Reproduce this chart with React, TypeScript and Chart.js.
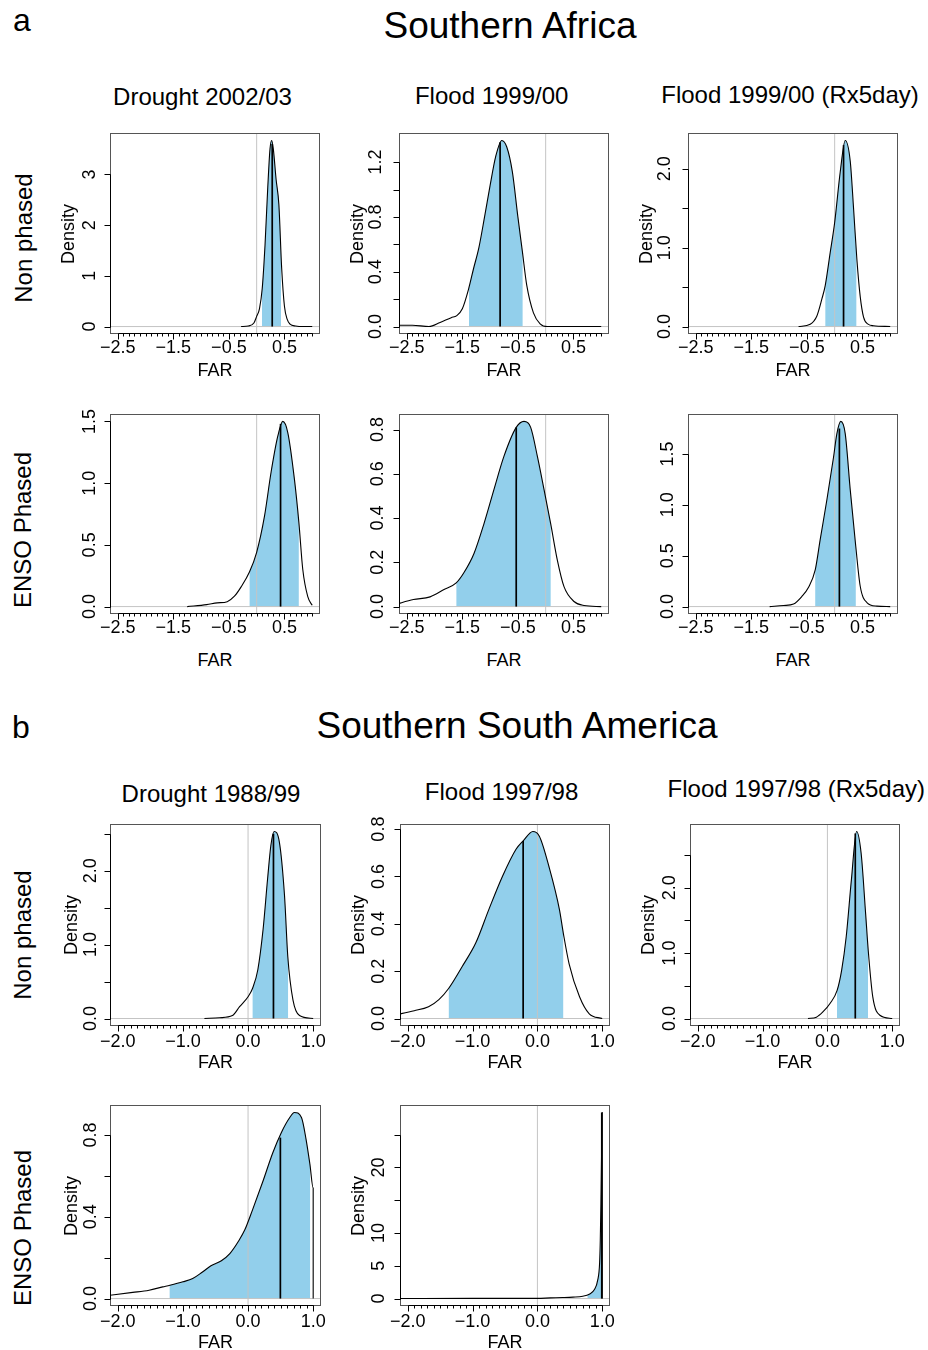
import React, { useEffect, useRef } from 'react';
import { Chart, registerables } from 'chart.js';

const FONT = '"Liberation Sans", Arial, Helvetica, sans-serif';
const BLUE = '#92cfeb';
const GREY = '#c4c4c4';
const BOX = '#555555';

// ---------------- Southern Africa ----------------
const afDroughtNP_x = [-0.28, -0.15, -0.05, 0.0, 0.05, 0.1, 0.15, 0.2, 0.24, 0.27, 0.3, 0.35, 0.4, 0.45, 0.5, 0.55, 0.6, 0.7, 0.85, 1.0];
const afDroughtNP_y = [0.0, 0.01, 0.07, 0.2, 0.35, 0.75, 1.6, 2.75, 3.5, 3.67, 3.5, 2.9, 2.4, 1.15, 0.4, 0.14, 0.05, 0.01, 0.0, 0.0];

const afFloodNP_x = [-2.7, -2.4, -2.1, -1.9, -1.7, -1.6, -1.5, -1.39, -1.3, -1.2, -1.1, -1.0, -0.9, -0.79, -0.7, -0.6, -0.5, -0.42, -0.34, -0.22, -0.1, 0.03, 0.5, 1.0];
const afFloodNP_y = [0.01, 0.01, 0.0, 0.03, 0.065, 0.08, 0.13, 0.27, 0.42, 0.58, 0.8, 1.03, 1.24, 1.358, 1.31, 1.13, 0.8, 0.55, 0.3, 0.1, 0.02, 0.0, 0.0, 0.0];

const afFloodRxNP_x = [-0.65, -0.44, -0.32, -0.23, -0.17, -0.08, 0.0, 0.1, 0.19, 0.28, 0.34, 0.4, 0.46, 0.52, 0.6, 0.7, 1.0];
const afFloodRxNP_y = [0.0, 0.03, 0.135, 0.35, 0.52, 0.94, 1.32, 1.96, 2.36, 2.1, 1.5, 0.85, 0.38, 0.12, 0.03, 0.01, 0.0];

const afDroughtEP_x = [-1.25, -0.9, -0.71, -0.53, -0.4, -0.28, -0.13, 0.0, 0.14, 0.26, 0.38, 0.47, 0.56, 0.68, 0.76, 0.83, 0.92, 1.0];
const afDroughtEP_y = [0.0, 0.016, 0.03, 0.04, 0.084, 0.16, 0.28, 0.44, 0.73, 1.09, 1.38, 1.5, 1.41, 1.03, 0.68, 0.3, 0.08, 0.01];

const afFloodEP_x = [-2.7, -2.38, -2.08, -1.83, -1.61, -1.47, -1.29, -1.11, -0.93, -0.75, -0.53, -0.39, -0.27, -0.15, -0.03, 0.09, 0.21, 0.33, 0.51, 0.69, 1.0];
const afFloodEP_y = [0.01, 0.032, 0.044, 0.077, 0.107, 0.154, 0.24, 0.375, 0.53, 0.68, 0.81, 0.837, 0.81, 0.68, 0.53, 0.375, 0.21, 0.09, 0.023, 0.005, 0.0];

const afFloodRxEP_x = [-1.17, -0.92, -0.74, -0.59, -0.47, -0.35, -0.26, -0.14, -0.02, 0.04, 0.11, 0.19, 0.28, 0.38, 0.46, 0.58, 0.76, 1.0];
const afFloodRxEP_y = [0.0, 0.01, 0.025, 0.1, 0.19, 0.36, 0.66, 1.05, 1.47, 1.7, 1.82, 1.7, 1.15, 0.59, 0.2, 0.04, 0.005, 0.0];

// ---------------- Southern South America ----------------
const saDroughtNP_x = [-0.67, -0.44, -0.24, -0.13, 0.0, 0.07, 0.15, 0.23, 0.3, 0.35, 0.4, 0.48, 0.56, 0.61, 0.69, 0.79, 1.0];
const saDroughtNP_y = [0.0, 0.01, 0.04, 0.16, 0.295, 0.41, 0.66, 1.2, 1.89, 2.34, 2.53, 2.39, 1.66, 0.84, 0.25, 0.04, 0.0];

const saFloodNP_x = [-2.2, -1.9, -1.68, -1.52, -1.37, -1.16, -0.95, -0.75, -0.54, -0.33, -0.22, -0.07, 0.03, 0.18, 0.34, 0.4, 0.49, 0.65, 0.8, 1.0];
const saFloodNP_y = [0.015, 0.033, 0.05, 0.08, 0.127, 0.22, 0.32, 0.46, 0.6, 0.715, 0.75, 0.79, 0.77, 0.64, 0.46, 0.36, 0.23, 0.092, 0.02, 0.0];

const saFloodRxNP_x = [-0.3, -0.17, -0.07, 0.04, 0.15, 0.22, 0.29, 0.37, 0.45, 0.52, 0.59, 0.63, 0.7, 0.81, 1.0];
const saFloodRxNP_y = [0.0, 0.02, 0.1, 0.23, 0.43, 0.74, 1.25, 2.12, 2.86, 2.53, 1.6, 1.04, 0.33, 0.05, 0.0];

const saDroughtEP_x = [-2.2, -1.77, -1.52, -1.31, -1.2, -1.0, -0.85, -0.7, -0.57, -0.41, -0.28, -0.15, -0.05, 0.07, 0.22, 0.38, 0.51, 0.64, 0.71, 0.82, 0.89, 0.95, 1.0, 1.0];
const saDroughtEP_y = [0.013, 0.03, 0.041, 0.057, 0.065, 0.082, 0.098, 0.13, 0.16, 0.185, 0.22, 0.279, 0.336, 0.435, 0.566, 0.713, 0.811, 0.885, 0.91, 0.885, 0.78, 0.656, 0.54, 0.0];

const saFloodEP_x = [-2.2, -1.0, 0.0, 0.2, 0.39, 0.55, 0.7, 0.8, 0.88, 0.93, 0.96, 0.97, 0.98, 0.99, 1.0, 1.0];
const saFloodEP_y = [0.0, 0.02, 0.03, 0.1, 0.15, 0.22, 0.36, 0.66, 1.37, 2.8, 5.5, 8.9, 14.5, 22.0, 28.4, 0.0];

// shaded interval and median (black line) per panel
const ciLow = [0.094, -1.38, -0.168, -0.127, -1.607, -0.35, 0.07, -1.367, 0.148, -1.204, 0.774];
const ciHigh = [0.436, -0.415, 0.39, 0.758, 0.09, 0.38, 0.614, 0.398, 0.627, 0.952, 1.0];
const medianFAR = [0.28, -0.82, 0.16, 0.43, -0.53, 0.085, 0.39, -0.22, 0.43, 0.496, 0.993];
const medianTop = [3.6, 1.345, 2.3, 1.48, 0.81, 1.75, 2.5, 0.75, 2.83, 0.787, 28.4];

// y axis ticks per panel
const yTickVals = [
  [0, 1, 2, 3],
  [0, 0.2, 0.4, 0.6, 0.8, 1.0, 1.2],
  [0, 0.5, 1.0, 1.5, 2.0],
  [0, 0.5, 1.0, 1.5],
  [0, 0.2, 0.4, 0.6, 0.8],
  [0, 0.5, 1.0, 1.5],
  [0, 0.5, 1.0, 1.5, 2.0, 2.5],
  [0, 0.2, 0.4, 0.6, 0.8],
  [0, 0.5, 1.0, 1.5, 2.0, 2.5],
  [0, 0.2, 0.4, 0.6, 0.8],
  [0, 5, 10, 15, 20, 25],
];
const yTickLabels = [
  ['0', '1', '2', '3'],
  ['0.0', '', '0.4', '', '0.8', '', '1.2'],
  ['0.0', '', '1.0', '', '2.0'],
  ['0.0', '0.5', '1.0', '1.5'],
  ['0.0', '0.2', '0.4', '0.6', '0.8'],
  ['0.0', '0.5', '1.0', '1.5'],
  ['0.0', '', '1.0', '', '2.0', ''],
  ['0.0', '0.2', '0.4', '0.6', '0.8'],
  ['0.0', '', '1.0', '', '2.0', ''],
  ['0.0', '', '0.4', '', '0.8'],
  ['0', '5', '10', '', '20', ''],
];

// x axis tick labels
const afXLabelVals = [-2.5, -1.5, -0.5, 0.5];
const afXLabels = ['\u22122.5', '\u22121.5', '\u22120.5', '0.5'];
const saXLabelVals = [-2.0, -1.0, 0.0, 1.0];
const saXLabels = ['\u22122.0', '\u22121.0', '0.0', '1.0'];

// titles
const sectionTitles = ['Southern Africa', 'Southern South America'];
const columnTitles = ['Drought 2002/03', 'Flood 1999/00', 'Flood 1999/00 (Rx5day)', 'Drought 1988/99', 'Flood 1997/98', 'Flood 1997/98 (Rx5day)'];
const rowTitles = ['Non phased', 'ENSO Phased', 'Non phased', 'ENSO Phased'];

const curveX = [afDroughtNP_x, afFloodNP_x, afFloodRxNP_x, afDroughtEP_x, afFloodEP_x, afFloodRxEP_x, saDroughtNP_x, saFloodNP_x, saFloodRxNP_x, saDroughtEP_x, saFloodEP_x];
const curveY = [afDroughtNP_y, afFloodNP_y, afFloodRxNP_y, afDroughtEP_y, afFloodEP_y, afFloodRxEP_y, saDroughtNP_y, saFloodNP_y, saFloodRxNP_y, saDroughtEP_y, saFloodEP_y];

// ---------------- layout ----------------
const boxLeft = [110, 399, 688, 110, 399, 688, 110, 400, 690, 110, 400];
const boxTop = [133, 133, 133, 414, 414, 414, 824, 824, 824, 1105, 1105];
const boxW = [210, 210, 210, 210, 210, 210, 211, 210, 210, 211, 210];
const boxH = [201, 201, 201, 200, 200, 200, 202, 202, 202, 201, 201];
const yLabOff = [20, 23, 23, 20, 21, 20, 18.5, 21, 20, 18.5, 21];
const densOff = [41.6, 42.3, 41.6, 0, 0, 0, 39.3, 42.2, 41.7, 39.3, 42.2];
const showDensity = [true, true, true, false, false, false, true, true, true, true, true];
const farBaseOff = [42.7, 42.7, 42.7, 52.7, 52.7, 52.7, 42.3, 42.3, 42.3, 42.3, 42.3];
const PAD_L = 60, PAD_T = 10, PAD_R = 14, PAD_B = 32;

const shadeClip = {
  id: 'shadeClip',
  beforeDatasetDraw(chart: any, args: any) {
    const ds = chart.data.datasets[args.index];
    if (!ds || !ds.clipX) return;
    const xs = chart.scales.x;
    const a = chart.chartArea;
    const x0 = xs.getPixelForValue(ds.clipX[0]);
    const x1 = xs.getPixelForValue(ds.clipX[1]);
    chart.ctx.save();
    chart.ctx.beginPath();
    chart.ctx.rect(x0, a.top, x1 - x0, a.bottom - a.top);
    chart.ctx.clip();
  },
  afterDatasetDraw(chart: any, args: any) {
    const ds = chart.data.datasets[args.index];
    if (!ds || !ds.clipX) return;
    chart.ctx.restore();
  },
};
Chart.register(shadeClip as any, ...registerables);

function makeAxes(i: number) {
  return {
    id: 'rAxes',
    afterDraw(chart: any) {
      const { ctx, chartArea: a } = chart;
      const xs = chart.scales.x;
      const ys = chart.scales.y;
      const isA = i < 6;
      const L = Math.round(a.left) + 0.5;
      const R = Math.round(a.right) - 0.5;
      const T = Math.round(a.top) + 0.5;
      const B = Math.round(a.bottom) - 0.5;
      ctx.save();
      ctx.lineWidth = 1;
      ctx.strokeStyle = BOX;
      ctx.strokeRect(L, T, R - L, B - T);
      // y axis
      const yv = yTickVals[i];
      const yl = yTickLabels[i];
      ctx.strokeStyle = '#000';
      ctx.beginPath();
      ctx.moveTo(L, Math.round(ys.getPixelForValue(yv[0])) + 0.5);
      ctx.lineTo(L, Math.round(ys.getPixelForValue(yv[yv.length - 1])) + 0.5);
      yv.forEach((v) => {
        const p = Math.round(ys.getPixelForValue(v)) + 0.5;
        ctx.moveTo(L, p);
        ctx.lineTo(L - 6, p);
      });
      ctx.stroke();
      ctx.fillStyle = '#000';
      ctx.font = `18px ${FONT}`;
      ctx.textAlign = 'center';
      ctx.textBaseline = 'middle';
      yv.forEach((v, k) => {
        if (!yl[k]) return;
        ctx.save();
        ctx.translate(a.left - yLabOff[i], ys.getPixelForValue(v));
        ctx.rotate(-Math.PI / 2);
        ctx.fillText(yl[k], 0, 0);
        ctx.restore();
      });
      // x axis
      const k0 = isA ? -25 : -20;
      const k1 = 10;
      const lv = isA ? afXLabelVals : saXLabelVals;
      const ll = isA ? afXLabels : saXLabels;
      ctx.beginPath();
      ctx.moveTo(Math.round(xs.getPixelForValue(k0 / 10)) + 0.5, B);
      ctx.lineTo(Math.round(xs.getPixelForValue(k1 / 10)) + 0.5, B);
      for (let k = k0; k <= k1; k++) {
        const v = k / 10;
        const px = Math.round(xs.getPixelForValue(v)) + 0.5;
        const major = lv.some((m) => Math.abs(m - v) < 1e-9);
        ctx.moveTo(px, B);
        ctx.lineTo(px, B + (major ? 6 : 3));
      }
      ctx.stroke();
      const xOff = isA ? 14.5 : 16;
      lv.forEach((v, k) => ctx.fillText(ll[k], xs.getPixelForValue(v), a.bottom + xOff));
      ctx.restore();
    },
  };
}

function Panel({ i }: { i: number }) {
  const ref = useRef<HTMLCanvasElement>(null);
  const W = boxW[i] + PAD_L + PAD_R;
  const H = boxH[i] + PAD_T + PAD_B;
  useEffect(() => {
    const isA = i < 6;
    const xmin = isA ? -2.64 : -2.12;
    const xmax = isA ? 1.14 : 1.12;
    const ys = curveY[i];
    const peak = Math.max(...ys);
    const ymin = -0.04 * peak;
    const ymax = 1.04 * peak;
    const curve = curveX[i].map((x, k) => ({ x, y: ys[k] }));
    const chart = new Chart(ref.current as HTMLCanvasElement, {
      type: 'line',
      data: {
        datasets: [
          {
            label: 'interval',
            data: curve,
            clipX: [ciLow[i], ciHigh[i]],
            fill: 'origin',
            backgroundColor: BLUE,
            borderColor: 'rgba(0,0,0,0)',
            borderWidth: 0,
            pointRadius: 0,
            cubicInterpolationMode: 'monotone',
            order: 5,
          } as any,
          {
            label: 'zeroFAR',
            data: [{ x: 0, y: ymin }, { x: 0, y: ymax }],
            borderColor: GREY,
            borderWidth: 1,
            pointRadius: 0,
            fill: false,
            order: 4,
          },
          {
            label: 'zeroDensity',
            data: [{ x: xmin, y: 0 }, { x: xmax, y: 0 }],
            borderColor: GREY,
            borderWidth: 1,
            pointRadius: 0,
            fill: false,
            order: 3,
          },
          {
            label: 'density',
            data: curve,
            borderColor: '#000',
            borderWidth: 1.1,
            pointRadius: 0,
            fill: false,
            cubicInterpolationMode: 'monotone',
            order: 2,
          },
          {
            label: 'median',
            data: [{ x: medianFAR[i], y: 0 }, { x: medianFAR[i], y: medianTop[i] }],
            borderColor: '#000',
            borderWidth: 1.7,
            pointRadius: 0,
            fill: false,
            order: 1,
          },
        ],
      },
      options: {
        animation: false,
        responsive: false,
        maintainAspectRatio: false,
        events: [],
        layout: { padding: { left: PAD_L, top: PAD_T, right: PAD_R, bottom: PAD_B } },
        scales: {
          x: { type: 'linear', min: xmin, max: xmax, display: false },
          y: { type: 'linear', min: ymin, max: ymax, display: false },
        },
        plugins: { legend: { display: false }, tooltip: { enabled: false } },
      },
      plugins: [makeAxes(i)],
    } as any);
    return () => chart.destroy();
  }, [i]);
  return (
    <canvas
      ref={ref}
      width={W}
      height={H}
      style={{ position: 'absolute', left: boxLeft[i] - PAD_L, top: boxTop[i] - PAD_T, width: W, height: H }}
    />
  );
}

function HText({ text, cx, left, baseline, size }: { text: string; cx?: number; left?: number; baseline: number; size: number }) {
  const style: React.CSSProperties = {
    position: 'absolute',
    top: baseline - 0.8465 * size,
    fontSize: size,
    lineHeight: `${size}px`,
    whiteSpace: 'nowrap',
    color: '#000',
    fontFamily: FONT,
  };
  if (left !== undefined) style.left = left;
  else {
    style.left = cx;
    style.transform = 'translateX(-50%)';
  }
  return <div style={style}>{text}</div>;
}

function VText({ text, cx, cy, size }: { text: string; cx: number; cy: number; size: number }) {
  return (
    <div
      style={{
        position: 'absolute',
        left: cx,
        top: cy,
        fontSize: size,
        lineHeight: `${size}px`,
        whiteSpace: 'nowrap',
        color: '#000',
        fontFamily: FONT,
        transform: 'translate(-50%, -50%) rotate(-90deg)',
      }}
    >
      {text}
    </div>
  );
}

const colTitleCx = [202.5, 491.7, 790, 211, 501.6, 796.3];
const colTitleBase = [105, 104, 103, 802, 800, 797.5];
const rowTitleCx = [24, 23, 23, 23];
const rowTitleCy = [238, 530, 935, 1228];

export default function App() {
  const idx = [0, 1, 2, 3, 4, 5, 6, 7, 8, 9, 10];
  return (
    <div style={{ position: 'absolute', left: 0, top: 0, width: 928, height: 1350, background: '#fff', overflow: 'hidden', fontFamily: FONT }}>
      <HText text="a" left={13} baseline={31} size={32} />
      <HText text={sectionTitles[0]} cx={510} baseline={38} size={37} />
      <HText text="b" left={12} baseline={738} size={32} />
      <HText text={sectionTitles[1]} cx={517} baseline={738} size={37} />
      {columnTitles.map((t, k) => (
        <HText key={'c' + k} text={t} cx={colTitleCx[k]} baseline={colTitleBase[k]} size={24} />
      ))}
      {rowTitles.map((t, k) => (
        <VText key={'r' + k} text={t} cx={rowTitleCx[k]} cy={rowTitleCy[k]} size={24} />
      ))}
      {idx.map((i) => (
        <Panel key={'p' + i} i={i} />
      ))}
      {idx.map((i) =>
        showDensity[i] ? (
          <VText key={'d' + i} text="Density" cx={boxLeft[i] - densOff[i]} cy={boxTop[i] + boxH[i] / 2} size={18} />
        ) : null
      )}
      {idx.map((i) => (
        <HText key={'f' + i} text="FAR" cx={boxLeft[i] + boxW[i] / 2} baseline={boxTop[i] + boxH[i] + farBaseOff[i]} size={18} />
      ))}
    </div>
  );
}
